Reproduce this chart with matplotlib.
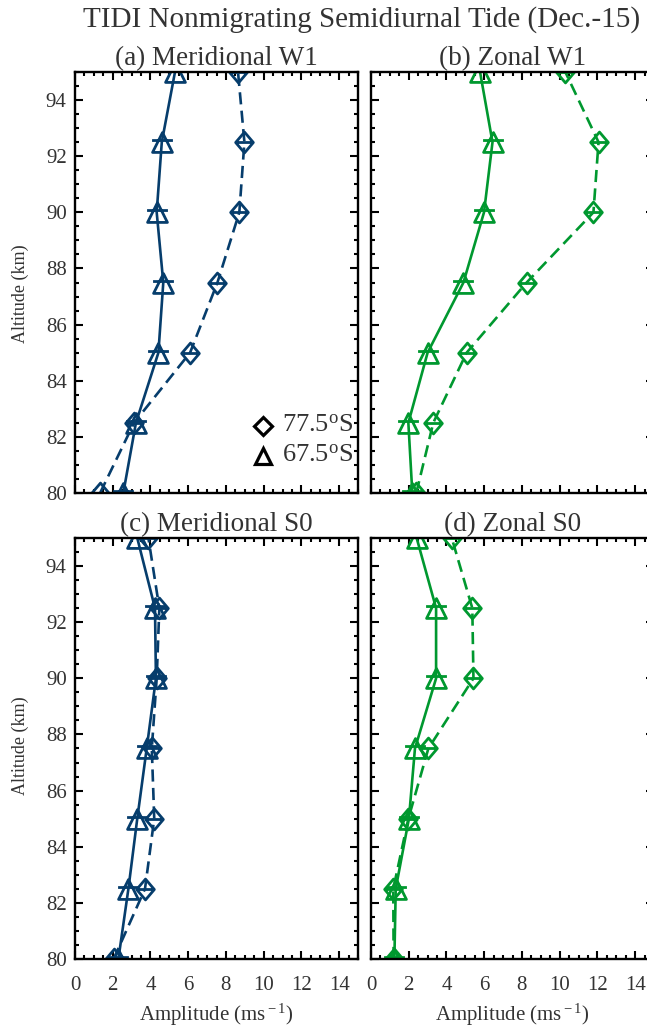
import matplotlib
matplotlib.use("Agg")
import matplotlib.pyplot as plt
from matplotlib.path import Path
from matplotlib.ticker import MultipleLocator

# ---- data -------------------------------------------------------------
altitude = [80.0, 82.5, 85.0, 87.5, 90.0, 92.5, 95.0]

# (a) Meridional W1
merid_w1_775s = [1.33, 3.13, 6.10, 7.55, 8.71, 8.98, 8.64]
merid_w1_675s = [2.56, 3.23, 4.42, 4.68, 4.33, 4.60, 5.30]
# (b) Zonal W1
zonal_w1_775s = [2.40, 3.30, 5.07, 8.25, 11.79, 12.06, 10.30]
zonal_w1_675s = [2.19, 1.98, 3.00, 4.90, 5.99, 6.44, 5.78]
# (c) Meridional S0
merid_s0_775s = [2.05, 3.71, 4.20, 4.07, 4.33, 4.47, 3.89]
merid_s0_675s = [2.30, 2.83, 3.30, 3.80, 4.29, 4.24, 3.30]
# (d) Zonal S0
zonal_s0_775s = [1.20, 1.18, 1.98, 3.04, 5.43, 5.37, 4.28]
zonal_s0_675s = [1.24, 1.31, 2.01, 2.33, 3.45, 3.45, 2.42]

panel_titles = ["(a) Meridional W1", "(b) Zonal W1",
                "(c) Meridional S0", "(d) Zonal S0"]
lat_labels = ["77.5$^{\\rm o}$S", "67.5$^{\\rm o}$S"]
suptitle = "TIDI Nonmigrating Semidiurnal Tide (Dec.-15)"
xlabel = "Amplitude (ms$^{\\rm -1}$)"
ylabel = "Altitude (km)"
xticks = [0, 2, 4, 6, 8, 10, 12, 14]
yticks = [80, 82, 84, 86, 88, 90, 92, 94]

# ---- style ------------------------------------------------------------
BLUE = "#063d6c"
GREEN = "#00982f"
TEXT = "#333333"
plt.rcParams["font.family"] = ["Liberation Serif", "DejaVu Serif"]
plt.rcParams["mathtext.fontset"] = "custom"
plt.rcParams["mathtext.rm"] = "Liberation Serif"
plt.rcParams["mathtext.it"] = "Liberation Serif:italic"

# open markers with a horizontal bar through them
tri_marker = Path(
    [(0, 1), (-1, -1), (1, -1), (0, 1), (-1.05, 0.2), (1.05, 0.2)],
    [Path.MOVETO, Path.LINETO, Path.LINETO, Path.CLOSEPOLY,
     Path.MOVETO, Path.LINETO])
dia_marker = Path(
    [(0, 1), (-0.85, 0), (0, -1), (0.85, 0), (0, 1), (-0.8, 0), (0.8, 0)],
    [Path.MOVETO, Path.LINETO, Path.LINETO, Path.LINETO, Path.CLOSEPOLY,
     Path.MOVETO, Path.LINETO])

W, H = 647, 1030
fig = plt.figure(figsize=(W / 100, H / 100), dpi=100)

ax_w = 283 / W
ax_h = 421 / H
lefts = [75 / W, 371 / W]
bottoms = [1 - 493 / H, 1 - 959 / H]

series = [
    (merid_w1_775s, merid_w1_675s, BLUE),
    (zonal_w1_775s, zonal_w1_675s, GREEN),
    (merid_s0_775s, merid_s0_675s, BLUE),
    (zonal_s0_775s, zonal_s0_675s, GREEN),
]

axes = []
for i, (s775, s675, col) in enumerate(series):
    row, colidx = divmod(i, 2)
    ax = fig.add_axes([lefts[colidx], bottoms[row], ax_w, ax_h])
    axes.append(ax)
    ax.plot(s775, altitude, color=col, lw=1.9, ls=(0, (4.6, 2.4)),
            marker=dia_marker, ms=15, mfc="none", mec=col, mew=2.0,
            dash_capstyle="butt")
    ax.plot(s675, altitude, color=col, lw=1.9, ls="-",
            marker=tri_marker, ms=15, mfc="none", mec=col, mew=2.0)

    ax.set_xlim(0, 15)
    ax.set_ylim(80, 95)
    ax.set_xticks(xticks)
    ax.set_yticks(yticks)
    ax.xaxis.set_minor_locator(MultipleLocator(0.5))
    ax.yaxis.set_minor_locator(MultipleLocator(0.5))
    ax.tick_params(which="both", direction="in", top=True, right=True,
                   colors="black", labelcolor=TEXT, labelsize=15,
                   width=1.5)
    ax.tick_params(which="major", length=6)
    ax.tick_params(which="minor", length=3)
    ax.tick_params(axis="x", pad=12)
    ax.tick_params(axis="y", pad=6)
    for sp in ax.spines.values():
        sp.set_linewidth(1.7)
    if row == 0:
        ax.tick_params(axis="x", labelbottom=False)
    else:
        ax.set_xlabel(xlabel, fontsize=15, color=TEXT, labelpad=5)
    if colidx == 1:
        ax.tick_params(axis="y", labelleft=False)
    ax.set_title(panel_titles[i], fontsize=19.5, color=TEXT, pad=5)

# latitude key in panel (a)
ax = axes[0]
ax.plot([0.665], [0.160], transform=ax.transAxes, marker="D", ms=9.5,
        mfc="none", mec="black", mew=2.3, ls="none")
ax.plot([0.665], [0.088], transform=ax.transAxes, marker="^", ms=12,
        mfc="none", mec="black", mew=2.3, ls="none")
ax.text(0.73, 0.160, lat_labels[0], transform=ax.transAxes, fontsize=19,
        color=TEXT, va="center", ha="left")
ax.text(0.73, 0.088, lat_labels[1], transform=ax.transAxes, fontsize=19,
        color=TEXT, va="center", ha="left")

for yc in [294, 746]:
    fig.text(20 / W, 1 - yc / H, ylabel, rotation=90, fontsize=13,
             color=TEXT, ha="center", va="center")

fig.text(362 / W, 1 - 20 / H, suptitle, fontsize=21, color=TEXT,
         ha="center", va="center")

fig.savefig("out.png", dpi=100)
